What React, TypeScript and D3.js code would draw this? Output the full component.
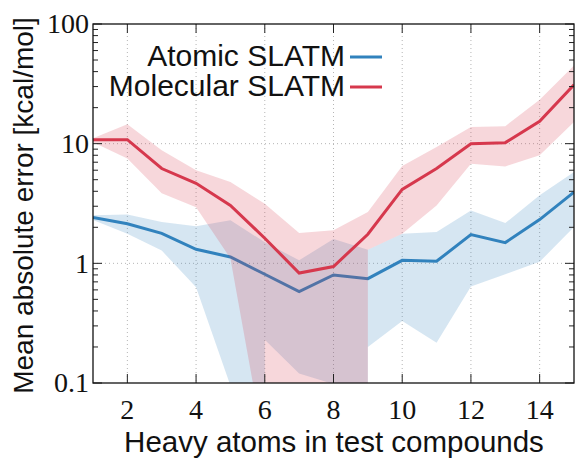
import React from "react";
import * as d3 from "d3";

// ---- data ----
const heavyAtoms = [1, 2, 3, 4, 5, 6, 7, 8, 9, 10, 11, 12, 13, 14, 15];
const atomicMAE = [2.42, 2.14, 1.78, 1.31, 1.13, 0.81, 0.58, 0.8, 0.745, 1.06, 1.04, 1.74, 1.49, 2.32, 3.94];
const molecularMAE = [10.8, 10.8, 6.2, 4.66, 3.05, 1.62, 0.83, 0.94, 1.75, 4.15, 6.2, 10.0, 10.2, 15.4, 31];

const atomicUpper = [2.52, 2.56, 2.21, 2.04, 2.29, 1.5, 1.06, 1.6, 1.3, 1.77, 1.83, 2.77, 2.17, 3.7, 5.79];
const atomicLowerX = [1, 2, 3, 4, 5, 6, 6, 7, 8, 9, 9, 10, 11, 12, 13, 14, 15];
const atomicLower = [2.3, 1.77, 1.28, 0.63, 0.095, 0.001, 0.23, 0.12, 0.098, 0.001, 0.2, 0.33, 0.217, 0.64, 0.81, 1.03, 2.01];

const molecularUpper = [11.1, 14.5, 8.8, 6.0, 4.78, 3.15, 1.79, 1.89, 2.68, 6.5, 9.4, 13.8, 14.0, 23.3, 45.1];
const molecularLowerX = [1, 2, 3, 4, 5, 6, 7, 8, 9, 9, 10, 11, 12, 13, 14, 15];
const molecularLower = [10.3, 7.5, 3.85, 2.94, 1.1, 0.028, 0.02, 0.02, 0.001, 1.3, 1.77, 3.05, 6.8, 6.46, 8.0, 15.2];

const xTicks = [2, 4, 6, 8, 10, 12, 14];
const yTicks = [0.1, 1, 10, 100];
const yTickLabels = ["0.1", "1", "10", "100"];
const legendLabels = ["Atomic SLATM", "Molecular SLATM"];
const xLabel = "Heavy atoms in test compounds";
const yLabel = "Mean absolute error [kcal/mol]";

const BLUE = "#3182bd";
const RED = "#d6384d";

export default function App() {
  const W = 575, H = 459;
  const L = 93, R = 574, T = 24, B = 383;
  const x = d3.scaleLinear().domain([1, 15]).range([L, R]);
  const y = d3.scaleLog().domain([0.1, 100]).range([B, T]);

  const line = d3.line<[number, number]>().x((d) => x(d[0])).y((d) => y(d[1]));

  const bandPath = (ux: number[], uv: number[], lx: number[], lv: number[]) => {
    const pts: [number, number][] = ux.map((v, i) => [v, uv[i]] as [number, number]);
    const low: [number, number][] = lx.map((v, i) => [v, lv[i]] as [number, number]).reverse();
    return line([...pts, ...low]) + "Z";
  };

  const minor: number[] = [];
  [0.1, 1, 10].forEach((d) => {
    for (let k = 2; k <= 9; k++) minor.push(d * k);
  });

  const serif = "'Liberation Serif', 'DejaVu Serif', serif";
  const sans = "'Liberation Sans', 'DejaVu Sans', sans-serif";

  return (
    <svg width={W} height={H} style={{ position: "absolute", left: 0, top: 0, background: "#fff" }}>
      <defs>
        <clipPath id="plot">
          <rect x={L} y={T} width={R - L} height={B - T} />
        </clipPath>
      </defs>
      {/* grid */}
      <g stroke="#b5b5b5" strokeWidth={1} strokeDasharray="1,3">
        {xTicks.map((t) => (
          <line key={"gx" + t} x1={x(t)} x2={x(t)} y1={T} y2={B} />
        ))}
        {[1, 10].map((t) => (
          <line key={"gy" + t} x1={L} x2={R} y1={y(t)} y2={y(t)} />
        ))}
      </g>
      <g clipPath="url(#plot)">
        <path d={bandPath(heavyAtoms, atomicUpper, atomicLowerX, atomicLower)} fill={BLUE} fillOpacity={0.2} />
        <path d={line(heavyAtoms.map((v, i) => [v, atomicMAE[i]] as [number, number])) || ""} fill="none" stroke={BLUE} strokeWidth={3} />
        <path d={bandPath(heavyAtoms, molecularUpper, molecularLowerX, molecularLower)} fill={RED} fillOpacity={0.2} />
        <path d={line(heavyAtoms.map((v, i) => [v, molecularMAE[i]] as [number, number])) || ""} fill="none" stroke={RED} strokeWidth={3} />
      </g>
      {/* ticks */}
      <g stroke="#222" strokeWidth={1}>
        {xTicks.map((t) => (
          <g key={"xt" + t}>
            <line x1={x(t)} x2={x(t)} y1={B} y2={B - 9} />
            <line x1={x(t)} x2={x(t)} y1={T} y2={T + 9} />
          </g>
        ))}
        {yTicks.map((t) => (
          <g key={"yt" + t}>
            <line x1={L} x2={L + 9} y1={y(t)} y2={y(t)} />
            <line x1={R} x2={R - 9} y1={y(t)} y2={y(t)} />
          </g>
        ))}
        {minor.map((t) => (
          <g key={"ym" + t}>
            <line x1={L} x2={L + 5} y1={y(t)} y2={y(t)} />
            <line x1={R} x2={R - 5} y1={y(t)} y2={y(t)} />
          </g>
        ))}
      </g>
      <rect x={L} y={T} width={R - L} height={B - T} fill="none" stroke="#111" strokeWidth={1.3} />
      {/* tick labels */}
      <g fontFamily={serif} fontSize={28} fill="#111">
        {xTicks.map((t) => (
          <text key={"xl" + t} x={x(t)} y={419} textAnchor="middle">
            {t}
          </text>
        ))}
        {yTicks.map((t, i) => (
          <text key={"yl" + t} x={89} y={y(t)} dy="0.33em" textAnchor="end">
            {yTickLabels[i]}
          </text>
        ))}
      </g>
      {/* axis labels */}
      <text x={334} y={452} textAnchor="middle" fontFamily={sans} fontSize={29.5} fill="#111">
        {xLabel}
      </text>
      <text
        transform={`translate(33,${(T + B) / 2 + 2}) rotate(-90)`}
        textAnchor="middle"
        fontFamily={sans}
        fontSize={28}
        fill="#111"
      >
        {yLabel}
      </text>
      {/* legend */}
      {legendLabels.map((lab, i) => (
        <g key={lab}>
          <text x={345} y={66 + i * 30} textAnchor="end" fontFamily={sans} fontSize={30} fill="#111">
            {lab}
          </text>
          <line x1={350} x2={382} y1={57 + i * 30} y2={57 + i * 30} stroke={i === 0 ? BLUE : RED} strokeWidth={3} />
        </g>
      ))}
    </svg>
  );
}
